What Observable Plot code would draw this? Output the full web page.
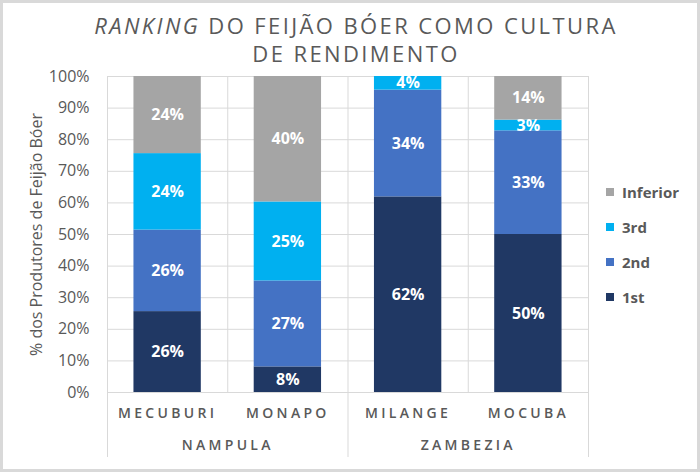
<!DOCTYPE html>
<html>
<head>
<meta charset="utf-8">
<script src="https://cdn.jsdelivr.net/npm/d3@7"></script>
<script src="https://cdn.jsdelivr.net/npm/@observablehq/plot@0.6"></script>
<style>
  html, body { margin: 0; padding: 0; background: #fff; }
  #wrap { position: relative; width: 700px; height: 472px; overflow: hidden; font-family: "Open Sans", sans-serif; }
  #title { position: absolute; top: 12px; left: 6px; width: 700px; text-align: center; color: #595959;
           font-size: 22px; line-height: 27.5px; letter-spacing: 2.4px; font-weight: 500; }
  #legend { position: absolute; left: 606px; top: 174px; color: #595959; font-size: 15px; font-weight: 700; }
  #legend .it { height: 35px; display: flex; align-items: center; }
  #legend .sw { width: 8px; height: 8px; margin-right: 8px; }
  #frame { position: absolute; inset: 0; border: 3px solid #d9d9d9; pointer-events: none; box-sizing: border-box; }
  .xl text { letter-spacing: 3.3px; }
</style>
</head>
<body>
<div id="wrap">
  <div id="chart"></div>
  <div id="title"><i>RANKING</i> DO FEIJÃO BÓER COMO CULTURA<br>DE RENDIMENTO</div>
  <div id="legend"></div>
  <div id="frame"></div>
</div>
<script>
const districts = ["MECUBURI", "MONAPO", "MILANGE", "MOCUBA"];
const regions = ["NAMPULA", "NAMPULA", "ZAMBEZIA", "ZAMBEZIA"];
const series = ["1st", "2nd", "3rd", "Inferior"];
const first = [25.6, 8.1, 61.9, 50.0];
const second = [25.8, 27.2, 33.8, 32.8];
const third = [24.2, 25.0, 4.3, 3.4];
const inferior = [24.4, 39.7, 0, 13.8];
const colors = ["#203864", "#4472C4", "#00B0F0", "#A5A5A5"];
const yTicks = [0, 10, 20, 30, 40, 50, 60, 70, 80, 90, 100];

const values = [first, second, third, inferior];
const segs = [];
districts.forEach((d, i) => {
  let acc = 0;
  series.forEach((s, k) => {
    const v = values[k][i];
    segs.push({i, district: d, series: s, v, y1: acc, y2: acc + v});
    acc += v;
  });
});

const n = districts.length;
const bounds = d3.range(n + 1).map(i => i - 0.5);
const groups = Array.from(d3.group(districts.map((d, i) => ({i, r: regions[i]})), d => d.r),
  ([r, arr]) => ({r, x: d3.mean(arr, a => a.i)}));
const outerBounds = bounds.filter(b => b === -0.5 || b === n - 0.5 || regions[Math.floor(b)] !== regions[Math.ceil(b)]);
const innerBounds = bounds.filter(b => !outerBounds.includes(b));
const hw = 0.28;

const chart = Plot.plot({
  width: 700,
  height: 472,
  marginLeft: 107,
  marginRight: 112,
  marginTop: 76,
  marginBottom: 80,
  style: {fontFamily: "Open Sans, sans-serif", color: "#595959", background: "transparent"},
  x: {domain: [-0.5, n - 0.5], axis: null},
  y: {domain: [0, 100], axis: null},
  color: {domain: series, range: colors},
  marks: [
    Plot.ruleY(yTicks, {y: d => d, stroke: "#d9d9d9", strokeWidth: 1}),
    Plot.ruleX(innerBounds, {x: d => d, stroke: "#d9d9d9"}),
    Plot.ruleX(outerBounds, {x: d => d, stroke: "#d9d9d9", insetBottom: -65}),
    Plot.rect(segs.filter(d => d.v > 0), {x1: d => d.i - hw, x2: d => d.i + hw, y1: "y1", y2: "y2", fill: "series"}),
    Plot.text(segs.filter(d => d.v > 0), {x: "i", y: d => (d.y1 + d.y2) / 2, text: d => Math.round(d.v) + "%",
      fill: "white", fontWeight: 700, fontSize: 16}),
    Plot.axisY(yTicks, {tickFormat: d => d + "%", tickSize: 0, tickPadding: 18, fontSize: 16,
      label: "% dos Produtores de Feijão Bóer", labelAnchor: "center", labelOffset: 77, labelArrow: false}),
    Plot.text(districts, {x: (d, i) => i, frameAnchor: "bottom", dy: 25, text: d => d, fontSize: 14,
      fontWeight: 600, className: "xl", fill: "#595959"}),
    Plot.text(groups, {x: "x", frameAnchor: "bottom", dy: 57, text: "r", fontSize: 14,
      fontWeight: 600, className: "xl", fill: "#595959"})
  ]
});
document.getElementById("chart").appendChild(chart);

const legend = document.getElementById("legend");
series.slice().reverse().forEach(s => {
  const it = document.createElement("div");
  it.className = "it";
  const sw = document.createElement("span");
  sw.className = "sw";
  sw.style.background = colors[series.indexOf(s)];
  it.appendChild(sw);
  it.appendChild(document.createTextNode(s));
  legend.appendChild(it);
});
</script>
</body>
</html>
